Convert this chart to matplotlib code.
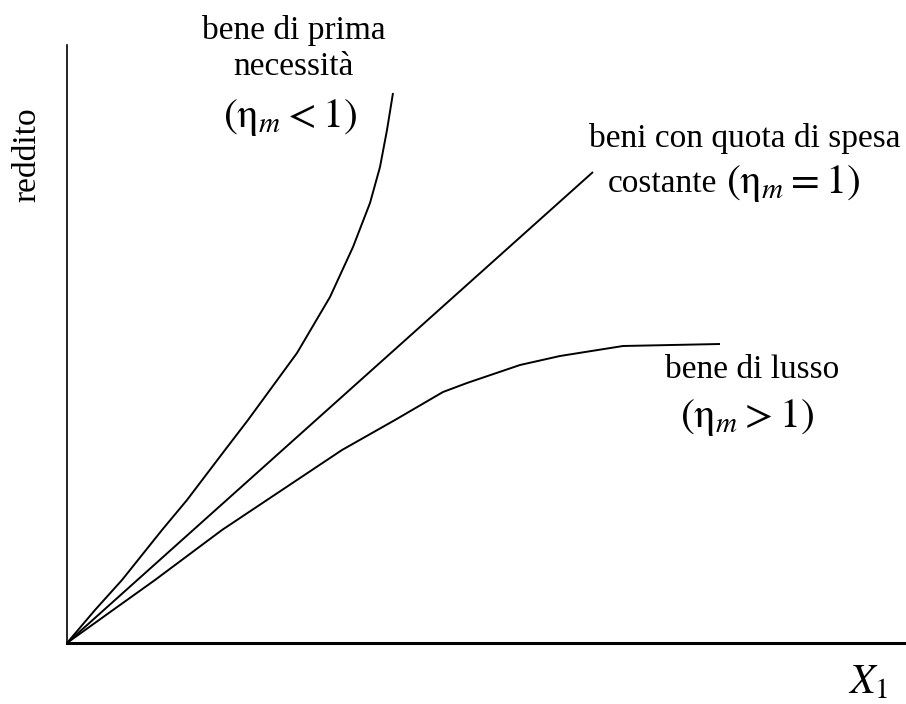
import numpy as np
import matplotlib
matplotlib.use("Agg")
from matplotlib import pyplot as plt

plt.rcParams['font.family'] = ['Liberation Serif', 'DejaVu Serif']
plt.rcParams['mathtext.fontset'] = 'stix'

# curve (unità arbitrarie: quantità X1, reddito)
nec_x = [0, 28, 55, 95, 120, 158, 181, 230, 263, 286, 303, 313, 320, 326]
nec_y = [0, 33, 63, 113, 143, 193, 223, 290, 346, 396, 440, 476, 513, 550]

lin_x = [0, 526]
lin_y = [0, 471]

lux_x = [0, 46, 88, 155, 200, 275, 328, 376, 400, 453, 493, 556, 653]
lux_y = [0, 33, 63, 113, 143, 193, 223, 251, 260, 278, 287, 297, 299]

W, H = 906, 704
fig = plt.figure(figsize=(W / 100, H / 100), dpi=100)
ax = fig.add_axes([67 / W, (H - 643) / H, (W - 67) / W, (643 - 45) / H])
ax.set_xlim(0, W - 67)
ax.set_ylim(0, 643 - 45)

for xs, ys in [(nec_x, nec_y), (lin_x, lin_y), (lux_x, lux_y)]:
    ax.plot(xs, ys, color='black', lw=1.4, solid_capstyle='butt', clip_on=False)

ax.spines['top'].set_visible(False)
ax.spines['right'].set_visible(False)
ax.spines['left'].set_linewidth(1.2)
ax.spines['bottom'].set_linewidth(2.2)
ax.set_xticks([])
ax.set_yticks([])

fs = 24
fm = 30
# testi in coordinate pixel della figura
def put(px, py, s, size, ha='center', va='center', **kw):
    fig.text(px / W, 1 - py / H, s, fontsize=size, ha=ha, va=va, **kw)

put(294, 30, 'bene di prima', fs)
put(293, 67, 'necessità', fs)
put(290, 117, r'$(\mathrm{η}_{m} < 1)$', fm)

put(745, 138, 'beni con quota di spesa', fs)
put(717, 184, 'costante', fs, ha='right')
put(726, 183, r'$(\mathrm{η}_{m} = 1)$', fm, ha='left')

put(752, 370, 'bene di lusso', fs)
put(747, 418, r'$(\mathrm{η}_{m} > 1)$', fm)

put(27, 155, 'reddito', fs, rotation=90)
put(868, 683, r'$X_1$', fm)

fig.savefig('out.png', dpi=100)
